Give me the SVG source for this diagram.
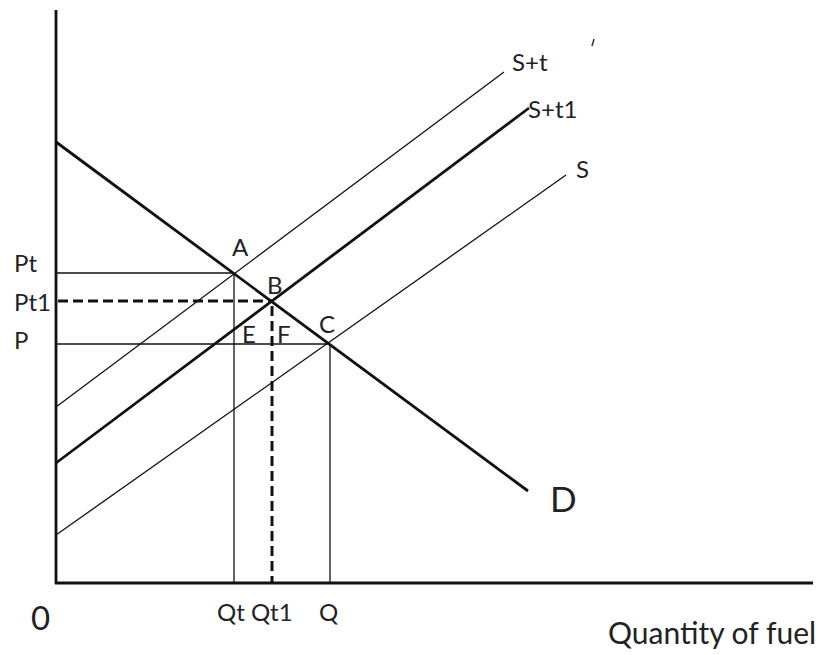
<svg xmlns="http://www.w3.org/2000/svg" width="829" height="655" viewBox="0 0 829 655">
<style>
.t{font-family:Lato,"Open Sans",sans-serif;fill:#222;}
.thin{stroke:#111;stroke-width:1.3;fill:none;}
.thick{stroke:#111;stroke-width:2.8;fill:none;}
.dash{stroke:#111;stroke-width:3;stroke-dasharray:10 5;fill:none;}
</style>
<rect width="829" height="655" fill="#fff"/>
<g id="axes">
<line class="thick" x1="56" y1="10" x2="56" y2="584"/>
<line class="thick" x1="55" y1="583" x2="813" y2="583"/>
</g>
<g id="connectors">
<line class="thin" x1="56" y1="273" x2="234" y2="273"/>
<line class="thin" x1="56" y1="344" x2="330" y2="344"/>
<line class="thin" x1="234" y1="273" x2="234" y2="583"/>
<line class="thin" x1="330" y1="344" x2="330" y2="583"/>
<line class="dash" x1="58" y1="301" x2="272" y2="301"/>
<line class="dash" x1="272" y1="306" x2="272" y2="583"/>
</g>
<g id="curve-D">
<line class="thick" x1="56" y1="142" x2="528" y2="491"/>
<text class="t" x="550" y="512" font-size="35">D</text>
</g>
<g id="curve-St">
<line class="thin" x1="56" y1="407" x2="504" y2="72"/>
<text class="t" x="512" y="71" font-size="24">S+t</text>
</g>
<g id="curve-St1">
<line class="thick" x1="56" y1="463" x2="529" y2="108"/>
<text class="t" x="528" y="118" font-size="24">S+t1</text>
</g>
<g id="curve-S">
<line class="thin" x1="56" y1="535" x2="566" y2="175"/>
<text class="t" x="576" y="178" font-size="24">S</text>
</g>
<g id="labels">
<text class="t" x="14" y="272" font-size="24">Pt</text>
<text class="t" x="14" y="311" font-size="24">Pt1</text>
<text class="t" x="14" y="349" font-size="24">P</text>
<text class="t" x="232" y="256" font-size="24">A</text>
<text class="t" x="267" y="294" font-size="24">B</text>
<text class="t" x="242" y="343" font-size="24">E</text>
<text class="t" x="277" y="343" font-size="24">F</text>
<text class="t" x="319" y="333" font-size="24">C</text>
<text class="t" x="217" y="621" font-size="24">Qt Qt1</text>
<text class="t" x="319" y="621" font-size="24">Q</text>
<text class="t" x="31" y="630" font-size="33">0</text>
<text class="t" x="608" y="644" font-size="30">Quantity of fuel</text>
</g>
<line x1="594" y1="39" x2="592" y2="46" stroke="#333" stroke-width="1.5"/>
</svg>
